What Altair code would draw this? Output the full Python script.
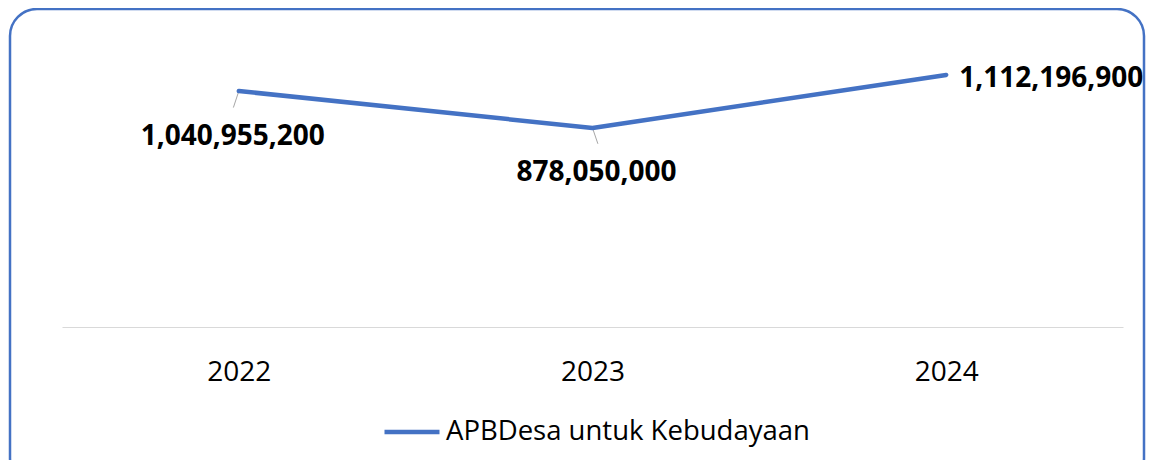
import altair as alt
import pandas as pd

years = ["2022", "2023", "2024"]
values = [1040955200, 878050000, 1112196900]
series = ["APBDesa untuk Kebudayaan"] * 3

df = pd.DataFrame({"year": years, "value": values, "series": series})

BLUE = "#4472C4"
FONT = "Open Sans"
W, H = 1061, 272

x = alt.X("year:N", scale=alt.Scale(type="point", padding=0.5),
          axis=alt.Axis(title=None, labelAngle=0, ticks=False, grid=False,
                        domainColor="#D9D9D9", domainWidth=1,
                        labelFontSize=28, labelColor="#000000", labelFont=FONT,
                        labelBaseline="alphabetic", labelPadding=53))
y = alt.Y("value:Q", scale=alt.Scale(domain=[0, 1200000000]), axis=None)

base = alt.Chart(df)

frame = alt.Chart(pd.DataFrame({"a": [0]})).mark_rect(
    fill="white", fillOpacity=0, stroke=BLUE, strokeWidth=2.5, cornerRadius=27
).encode(x=alt.value(-52), x2=alt.value(1082), y=alt.value(-46), y2=alt.value(430))

leader1 = base.transform_filter(alt.datum.year == "2022").mark_point(
    shape="M0,0L-0.33,1", size=1089, filled=False, stroke="#A6A6A6", strokeWidth=1, opacity=1
).encode(x=x, y=y)
leader2 = base.transform_filter(alt.datum.year == "2023").mark_point(
    shape="M0,0L0.34,1", size=1000, filled=False, stroke="#A6A6A6", strokeWidth=1, opacity=1
).encode(x=x, y=y)

line = base.mark_line(strokeWidth=4.5, strokeCap="round", strokeJoin="round").encode(
    x=x, y=y,
    color=alt.Color("series:N", scale=alt.Scale(range=[BLUE]),
                    legend=alt.Legend(title=None, orient="none", legendX=320, legendY=347,
                                      symbolType="stroke", symbolSize=3025, symbolStrokeWidth=4.5,
                                      labelFontSize=27.5, labelFont=FONT, labelColor="#000000",
                                      labelOffset=4, labelLimit=0, padding=0))
)

def label(yr, dx, dy, align):
    return base.transform_filter(alt.datum.year == yr).mark_text(
        font=FONT, fontSize=28, fontWeight="bold", color="#000000",
        align=align, baseline="alphabetic", dx=dx, dy=dy
    ).encode(x=x, y=y, text=alt.Text("value:Q", format=","))

chart = alt.layer(
    frame, leader1, leader2, line,
    label("2022", -6, 54, "center"),
    label("2023", 4, 53, "center"),
    label("2024", 13, 12, "left"),
).properties(
    width=W, height=H,
    autosize=alt.AutoSizeParams(type="none"),
    padding={"left": 54, "top": 47, "right": 23, "bottom": 133},
).configure(font=FONT, view=alt.ViewConfig(stroke=None))

chart.save("out.html", embed_options={"renderer": "svg", "actions": False})
